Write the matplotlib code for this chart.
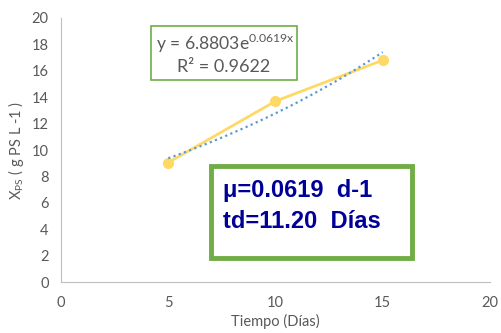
import numpy as np
import matplotlib.pyplot as plt
from matplotlib.patches import Rectangle

tiempo = [5, 10, 15]
biomasa = [9.05, 13.7, 16.8]
coef_a = 6.8803
coef_b = 0.0619
r2 = 0.9622
x_ticks = [0, 5, 10, 15, 20]
y_ticks = list(range(0, 21, 2))

plt.rcParams['font.family'] = ['Lato', 'DejaVu Sans']

fig = plt.figure(figsize=(5.01, 3.33), dpi=100)
ax = fig.add_axes([0.1218, 0.153, 0.856, 0.793])

gris = '#595959'
ax.plot(tiempo, biomasa, color='#FFD966', lw=2, marker='o', ms=7, zorder=3)

xt = np.linspace(tiempo[0], tiempo[-1], 50)
ax.plot(xt, coef_a * np.exp(coef_b * xt), color='#5B9BD5', lw=1.6,
        linestyle=(0, (1, 1.5)), zorder=4)

ax.set_xlim(0, 20)
ax.set_ylim(0, 20)
ax.set_xticks(x_ticks)
ax.set_yticks(y_ticks)
ax.tick_params(length=0, colors=gris, labelsize=10.5)
ax.tick_params(axis='x', pad=10)
ax.tick_params(axis='y', pad=9)
for s in ['top', 'right']:
    ax.spines[s].set_visible(False)
for s in ['left', 'bottom']:
    ax.spines[s].set_color('#BFBFBF')
ax.set_xlabel('Tiempo (Días)', color=gris, fontsize=10.5, labelpad=3)
ax.set_ylabel(r'X$_{\mathregular{PS}}$ ( g PS L -1 )', color=gris, fontsize=10.5, labelpad=4)

# recuadro de la ecuación
fig.patches.append(Rectangle((151 / 501, 1 - 80 / 333), 146 / 501, 54 / 333,
                             transform=fig.transFigure, fill=True, facecolor='white',
                             edgecolor='#70AD47', lw=1.2, zorder=5))
fig.text(225 / 501, 1 - 43 / 333, 'y = 6.8803e$^{\\mathregular{0.0619x}}$', ha='center', va='center',
         color=gris, fontsize=12.6, zorder=6)
fig.text(224 / 501, 1 - 67 / 333, 'R² = %.4f' % r2, ha='center', va='center',
         color=gris, fontsize=13, zorder=6)

# recuadro de mu y td
fig.patches.append(Rectangle((211 / 501, 1 - 258 / 333), 201 / 501, 92 / 333,
                             transform=fig.transFigure, fill=True, facecolor='white',
                             edgecolor='#70AD47', lw=3.5, zorder=5))
fig.text(223 / 501, 1 - 190 / 333, 'μ=0.0619  d-1', ha='left', va='center',
         color='#000099', fontsize=17, fontweight='bold', family='Liberation Sans', zorder=6)
fig.text(223 / 501, 1 - 222 / 333, 'td=11.20  Días', ha='left', va='center',
         color='#000099', fontsize=17, fontweight='bold', family='Liberation Sans', zorder=6)

fig.savefig('out.png', dpi=100)
